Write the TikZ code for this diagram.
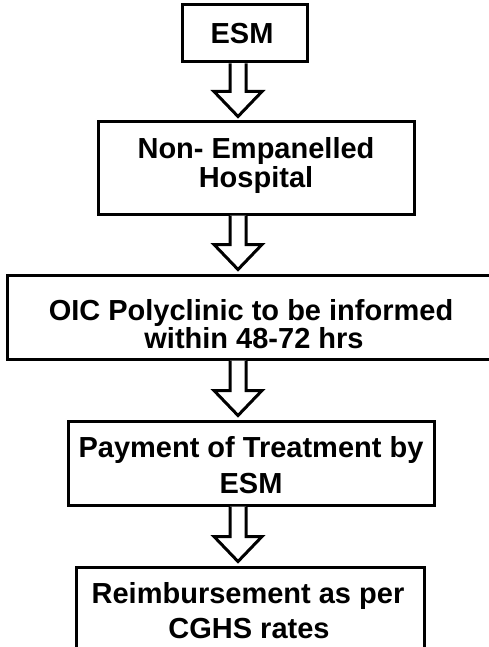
\documentclass[tikz,border=0pt]{standalone}
\usepackage{fontspec}
\setmainfont{Liberation Sans}
\usetikzlibrary{calc}
\begin{document}
\begin{tikzpicture}[x=1pt,y=1pt,
  box/.style={draw=black, line width=3pt, inner sep=0pt},
  txt/.style={anchor=base, inner sep=0pt, font=\bfseries\fontsize{29}{29}\selectfont},
  arr/.style={draw=black, line width=3pt, fill=white, line join=miter}]
\useasboundingbox (0,0) rectangle (489,-647);
\clip (0,0) rectangle (489,-647);
\coordinate (ax) at (238,0);
% boxes
\node[box, minimum width=125, minimum height=57] (b1) at (244.5,-33.5) {};
\node[box, minimum width=316, minimum height=92] (b2) at (256,-168) {};
\node[box, minimum width=490, minimum height=84] (b3) at (252,-317) {};
\node[box, minimum width=366, minimum height=84] (b4) at (251,-463) {};
\node[box, minimum width=348, minimum height=90] (b5) at (250,-612) {};
% texts
\node[txt] (t1) at (242,-44) {ESM};
\node[txt] (t2a) at (256,-159) {Non- Empanelled};
\node[txt] (t2b) at (256,-187) {Hospital};
\node[txt] (t3a) at (251,-320.5) {OIC Polyclinic to be informed};
\node[txt] (t3b) at (254,-348.5) {within 48-72 hrs};
\node[txt] (t4a) at (251,-457) {Payment of Treatment by};
\node[txt] (t4b) at (251,-493) {ESM};
\node[txt] (t5a) at (248,-603) {Reimbursement as per};
\node[txt] (t5b) at (249,-638) {CGHS rates};
% arrows
\newcommand\flowarrow[2]{%
  \path (ax |- #1.south) coordinate (s) (ax |- #2.north) coordinate (t);
  \draw[arr] ($(s)+(-8,0)$) -- ($(t)+(-8,29)$) -- ($(t)+(-24,29)$) -- ($(t)+(0,4)$)
    -- ($(t)+(24,29)$) -- ($(t)+(8,29)$) -- ($(s)+(8,0)$);}
\flowarrow{b1}{b2}
\flowarrow{b2}{b3}
\flowarrow{b3}{b4}
\flowarrow{b4}{b5}
\end{tikzpicture}
\end{document}
